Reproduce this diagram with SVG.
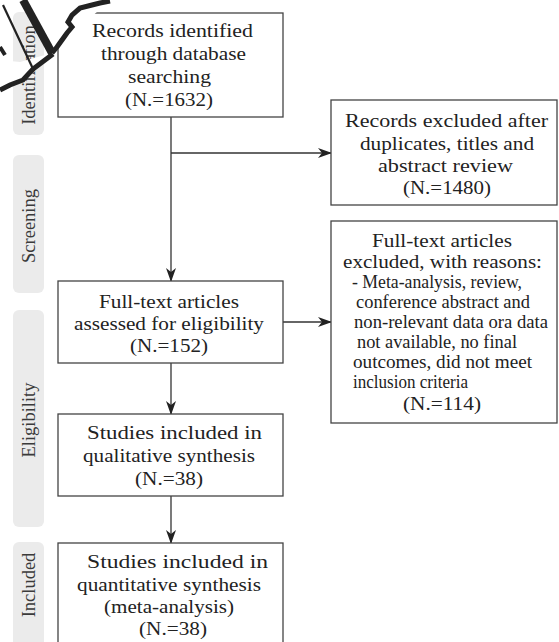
<svg xmlns="http://www.w3.org/2000/svg" width="559" height="642" viewBox="0 0 559 642">
<defs>
<style>
.bar{fill:#ebebeb}
.bt{font-family:"Liberation Serif","Times New Roman",serif;font-size:18.5px;fill:#3a3a3a;text-anchor:middle}
.box{fill:#fff;stroke:#444;stroke-width:1.3}
.t{font-family:"Liberation Serif","Times New Roman",serif;font-size:18.5px;fill:#222;text-anchor:start}
.c{stroke:#333;stroke-width:1.3;fill:none}
</style>
<marker id="ah" markerWidth="14" markerHeight="10" viewBox="0 0 14 10" refX="13" refY="5" orient="auto" markerUnits="userSpaceOnUse">
<path d="M0,0 L14,5 L0,10 L4,5 Z" fill="#222"/>
</marker>
</defs>
<rect width="559" height="642" fill="#fff"/>
<g id="sidebar">
<rect class="bar" x="13" y="12" width="31" height="123" rx="6"/>
<text class="bt" transform="translate(35,75) rotate(-90)">Identification</text>
<rect class="bar" x="13" y="155" width="31" height="138" rx="6"/>
<text class="bt" transform="translate(35,226) rotate(-90)">Screening</text>
<rect class="bar" x="13" y="310" width="31" height="217" rx="6"/>
<text class="bt" transform="translate(35,420) rotate(-90)">Eligibility</text>
<rect class="bar" x="13" y="542" width="31" height="120" rx="6"/>
<text class="bt" transform="translate(35,585) rotate(-90)">Included</text>
</g>
<g id="connectors">
<path class="c" d="M171,117 V281" marker-end="url(#ah)"/>
<path class="c" d="M171,153 H331" marker-end="url(#ah)"/>
<path class="c" d="M283,322 H331" marker-end="url(#ah)"/>
<path class="c" d="M171,363 V414" marker-end="url(#ah)"/>
<path class="c" d="M171,496 V543" marker-end="url(#ah)"/>
</g>
<g id="n1">
<rect class="box" x="58" y="13" width="225" height="104"/>
<text class="t" x="92" y="37" textLength="161" lengthAdjust="spacingAndGlyphs">Records  identified</text>
<text class="t" x="101" y="60" textLength="145" lengthAdjust="spacingAndGlyphs">through database</text>
<text class="t" x="128" y="83" textLength="83" lengthAdjust="spacingAndGlyphs">searching</text>
<text class="t" x="125" y="106" textLength="88" lengthAdjust="spacingAndGlyphs">(N.=1632)</text>
</g>
<g id="n2">
<rect class="box" x="331" y="100" width="226" height="105"/>
<text class="t" x="345" y="127" textLength="203" lengthAdjust="spacingAndGlyphs">Records excluded after</text>
<text class="t" x="360" y="150" textLength="174" lengthAdjust="spacingAndGlyphs">duplicates, titles and</text>
<text class="t" x="378" y="172" textLength="135" lengthAdjust="spacingAndGlyphs">abstract  review</text>
<text class="t" x="403" y="194" textLength="88" lengthAdjust="spacingAndGlyphs">(N.=1480)</text>
</g>
<g id="n3">
<rect class="box" x="58" y="281" width="225" height="82"/>
<text class="t" x="99" y="308" textLength="140" lengthAdjust="spacingAndGlyphs">Full-text articles</text>
<text class="t" x="74" y="330" textLength="190" lengthAdjust="spacingAndGlyphs">assessed for eligibility</text>
<text class="t" x="130" y="352" textLength="78" lengthAdjust="spacingAndGlyphs">(N.=152)</text>
</g>
<g id="n4">
<rect class="box" x="331" y="221" width="226" height="202"/>
<text class="t" x="372" y="247" textLength="140" lengthAdjust="spacingAndGlyphs">Full-text articles</text>
<text class="t" x="343" y="268" textLength="199" lengthAdjust="spacingAndGlyphs">excluded, with reasons:</text>
<text class="t" x="352" y="288" textLength="170" lengthAdjust="spacingAndGlyphs">- Meta-analysis, review,</text>
<text class="t" x="356" y="308" textLength="174" lengthAdjust="spacingAndGlyphs">conference abstract and</text>
<text class="t" x="354" y="328" textLength="194" lengthAdjust="spacingAndGlyphs">non-relevant data ora data</text>
<text class="t" x="357" y="348" textLength="160" lengthAdjust="spacingAndGlyphs">not available, no final</text>
<text class="t" x="353" y="368" textLength="179" lengthAdjust="spacingAndGlyphs">outcomes, did not  meet</text>
<text class="t" x="353" y="388" textLength="115" lengthAdjust="spacingAndGlyphs">inclusion criteria</text>
<text class="t" x="403" y="410" textLength="78" lengthAdjust="spacingAndGlyphs">(N.=114)</text>
</g>
<g id="n5">
<rect class="box" x="58" y="414" width="225" height="82"/>
<text class="t" x="87" y="439" textLength="175" lengthAdjust="spacingAndGlyphs">Studies  included  in</text>
<text class="t" x="83" y="462" textLength="172" lengthAdjust="spacingAndGlyphs">qualitative synthesis</text>
<text class="t" x="135" y="485" textLength="68" lengthAdjust="spacingAndGlyphs">(N.=38)</text>
</g>
<g id="n6">
<rect class="box" x="58" y="543" width="225" height="110"/>
<text class="t" x="87" y="568" textLength="181" lengthAdjust="spacingAndGlyphs">Studies   included   in</text>
<text class="t" x="77" y="591" textLength="184" lengthAdjust="spacingAndGlyphs">quantitative synthesis</text>
<text class="t" x="104" y="613" textLength="130" lengthAdjust="spacingAndGlyphs">(meta-analysis)</text>
<text class="t" x="139" y="635" textLength="68" lengthAdjust="spacingAndGlyphs">(N.=38)</text>
</g>
<g id="artifact">
<polygon points="22,0 110,0 52,53" fill="#fff"/>
<polygon points="52,53 30,76 0,90 0,60 20,62" fill="#fff"/>
<path d="M23,0 L52,53" stroke="#222" stroke-width="8" fill="none"/>
<path d="M110,1 L100,3 L92,5 L80,8 L72,15 L68,22 L72,27 L67,33 L62,40 L57,47 L52,53" stroke="#222" stroke-width="5" fill="none"/>
<path d="M53,54 L33,69 L23,80 L10,85 L0,90" stroke="#222" stroke-width="5" fill="none"/>
<path d="M3,5 L34,71" stroke="#222" stroke-width="2.2" fill="none"/>
<path d="M0,47 L5,55" stroke="#222" stroke-width="4" fill="none"/>
</g>
</svg>
